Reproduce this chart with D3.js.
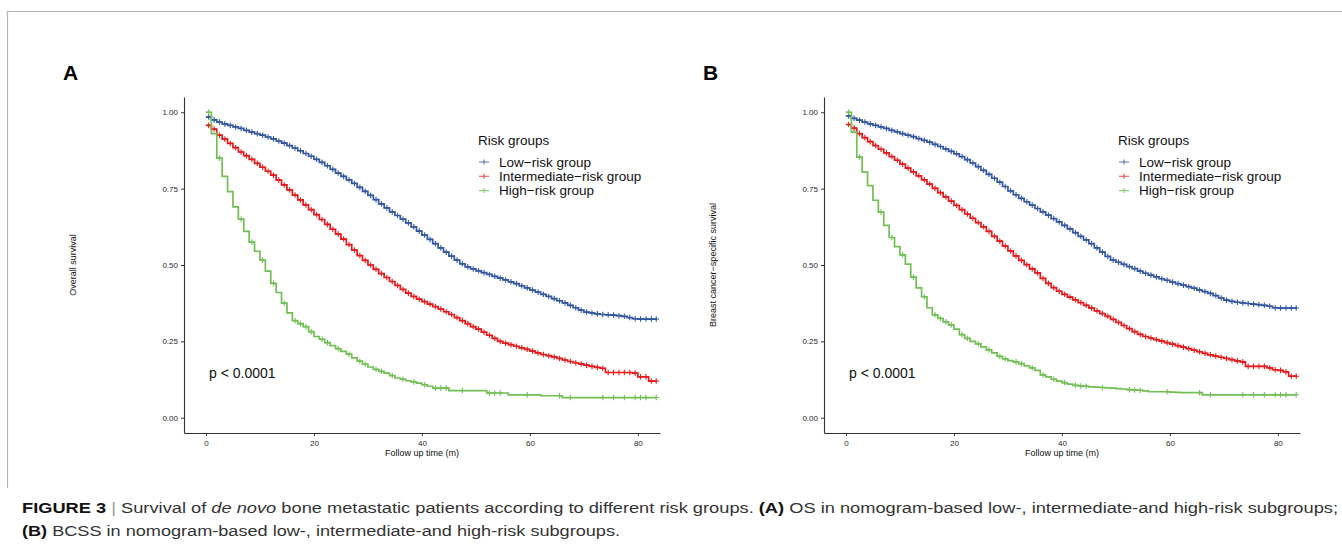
<!DOCTYPE html>
<html>
<head>
<meta charset="utf-8">
<script src="https://cdn.jsdelivr.net/npm/d3@7"></script>
<style>
  body { margin: 0; background: #fff; }
  svg text { font-family: "Liberation Sans", Arial, sans-serif; }
</style>
</head>
<body>
<div id="figure"></div>
<script>
// follow-up months (step starts)
var months = d3.range(0, 84);
var lastMonth = 83.5;

// Panel A: overall survival
var osLow = [0.985,0.975,0.968,0.962,0.957,0.952,0.947,0.941,0.935,0.930,0.925,0.919,0.913,0.906,0.899,0.891,0.883,0.874,0.865,0.856,
  0.846,0.836,0.825,0.813,0.801,0.790,0.779,0.767,0.754,0.741,0.728,0.714,0.700,0.687,0.674,0.662,0.650,0.638,0.625,0.611,
  0.598,0.584,0.570,0.556,0.542,0.529,0.516,0.504,0.494,0.487,0.481,0.475,0.469,0.463,0.457,0.451,0.445,0.439,0.432,0.425,
  0.418,0.411,0.404,0.397,0.390,0.383,0.376,0.368,0.360,0.352,0.346,0.343,0.340,0.338,0.337,0.336,0.334,0.332,0.328,0.324,
  0.323,0.323,0.323,0.323];
var osMid = [0.957,0.945,0.925,0.912,0.898,0.884,0.870,0.858,0.846,0.833,0.820,0.807,0.794,0.778,0.762,0.746,0.729,0.713,0.697,0.681,
  0.665,0.649,0.633,0.617,0.601,0.585,0.567,0.549,0.531,0.515,0.500,0.486,0.472,0.459,0.446,0.433,0.420,0.408,0.397,0.388,
  0.380,0.372,0.364,0.356,0.347,0.338,0.328,0.318,0.308,0.298,0.290,0.280,0.270,0.260,0.250,0.244,0.239,0.234,0.229,0.224,
  0.218,0.212,0.207,0.203,0.199,0.194,0.189,0.184,0.180,0.176,0.172,0.168,0.165,0.162,0.148,0.148,0.148,0.148,0.148,0.146,
  0.134,0.134,0.120,0.120];
var osHigh = [1.000,0.930,0.850,0.790,0.740,0.690,0.650,0.610,0.575,0.545,0.516,0.480,0.440,0.410,0.375,0.343,0.318,0.308,0.298,0.282,
  0.266,0.257,0.246,0.236,0.226,0.217,0.208,0.196,0.185,0.175,0.166,0.158,0.152,0.146,0.138,0.130,0.126,0.121,0.117,0.113,
  0.108,0.103,0.097,0.097,0.097,0.089,0.089,0.089,0.089,0.089,0.089,0.089,0.081,0.081,0.081,0.081,0.075,0.075,0.075,0.075,
  0.075,0.075,0.072,0.072,0.072,0.072,0.066,0.066,0.066,0.066,0.066,0.066,0.066,0.066,0.066,0.066,0.066,0.066,0.066,0.066,
  0.066,0.066,0.066,0.066];

// Panel B: breast cancer-specific survival
var bcssLow = [0.988,0.980,0.974,0.968,0.962,0.957,0.952,0.947,0.941,0.936,0.930,0.925,0.920,0.914,0.908,0.902,0.895,0.888,0.880,0.872,
  0.864,0.855,0.845,0.834,0.822,0.810,0.797,0.784,0.771,0.757,0.743,0.730,0.718,0.707,0.696,0.685,0.674,0.663,0.652,0.641,
  0.630,0.618,0.606,0.594,0.582,0.570,0.556,0.542,0.528,0.516,0.509,0.502,0.495,0.488,0.480,0.473,0.467,0.461,0.455,0.450,
  0.444,0.439,0.434,0.429,0.424,0.418,0.413,0.407,0.400,0.392,0.385,0.381,0.378,0.376,0.374,0.372,0.370,0.368,0.365,0.360,
  0.359,0.359,0.359,0.359];
var bcssMid = [0.960,0.948,0.930,0.917,0.904,0.891,0.879,0.867,0.855,0.843,0.830,0.817,0.805,0.792,0.779,0.765,0.751,0.737,0.723,0.709,
  0.695,0.681,0.667,0.653,0.639,0.625,0.610,0.594,0.578,0.562,0.546,0.530,0.515,0.501,0.487,0.474,0.456,0.440,0.426,0.414,
  0.404,0.395,0.386,0.377,0.368,0.359,0.350,0.341,0.332,0.322,0.312,0.302,0.292,0.282,0.273,0.266,0.261,0.256,0.251,0.246,
  0.241,0.236,0.231,0.226,0.221,0.216,0.211,0.206,0.202,0.198,0.194,0.190,0.186,0.183,0.168,0.168,0.168,0.168,0.163,0.157,
  0.155,0.150,0.136,0.136];
var bcssHigh = [1.000,0.935,0.853,0.804,0.760,0.712,0.673,0.630,0.590,0.560,0.533,0.503,0.460,0.425,0.396,0.360,0.337,0.325,0.314,0.304,
  0.290,0.272,0.260,0.250,0.242,0.232,0.222,0.212,0.201,0.193,0.187,0.183,0.177,0.170,0.163,0.155,0.140,0.134,0.126,0.120,
  0.115,0.110,0.106,0.104,0.103,0.101,0.100,0.099,0.098,0.097,0.095,0.094,0.092,0.091,0.090,0.088,0.085,0.085,0.085,0.085,
  0.084,0.083,0.082,0.082,0.082,0.082,0.075,0.075,0.075,0.075,0.075,0.075,0.075,0.075,0.075,0.075,0.075,0.075,0.075,0.075,
  0.075,0.075,0.075,0.075];

// censoring times (+ marks)
var censorDense = [0.5,1.5,2.5,3.5,4.5,5.5,6.5,7.5,8.5,9.5,10.5,11.5,12.5,13.5,14.5,15.5,16.5,17.5,18.5,19.5,20.5,21.5,22.5,23.5,
  24.5,25.5,26.5,27.5,28.5,29.5,30.5,31.5,32.5,33.5,34.5,35.5,36.5,37.5,38.5,39.5,40.5,41.5,42.5,43.5,44.5,45.5,46.5,47.5,
  48.5,49.5,50.5,51.5,52.5,53.5,54.5,55.5,56.5,57.5,58.5,59.5,60.5,61.5,62.5,63.5,64.5,65.5,66.5,67.5,68.5,69.5,70.5,71.5,
  72.5,73.5,74.5,75.5,76.5,77.5,78.5,79.5,80.5,81.5,82.5,83.4];
var censorHigh = [0.5,2.5,6.5,8.5,10.5,12.5,14.5,16.5,17.5,18.5,19.5,21.5,22.5,24.5,26.5,28.5,29.5,31.5,32.5,34.5,36.5,38.5,
  40.5,42.5,43.5,44.5,47.5,52.5,53.5,54.5,59.5,65.5,67.5,73.5,75.5,77.5,79.5,80.5,81.5,83.4];

var groupNames = ["Low\u2212risk group", "Intermediate\u2212risk group", "High\u2212risk group"];
var groupColors = ["#33579f", "#e41a1c", "#72be55"];
var yTicks = [0, 0.25, 0.5, 0.75, 1];
var xTicks = [0, 20, 40, 60, 80];

var svg = d3.select("#figure").append("svg")
  .attr("width", 1342).attr("height", 548);

// frame of the figure box
svg.append("path")
  .attr("d", "M7.5,488 V11.5 H1342")
  .attr("fill", "none").attr("stroke", "#b4b4b4").attr("stroke-width", 1.2);

function drawPanel(left, letter, yTitle, series) {
  var x = d3.scaleLinear().domain([-4.07, 84.1]).range([left, left + 476]);
  var y = d3.scaleLinear().domain([-0.05, 1.05]).range([433, 97]);
  var g = svg.append("g");

  g.append("text").attr("x", left - 121).attr("y", 80)
    .style("font-size", "21px").style("font-weight", "bold").text(letter);

  var yAxis = g.append("g").attr("transform", "translate(" + left + ",0)")
    .call(d3.axisLeft(y).tickValues(yTicks).tickFormat(d3.format(".2f")).tickSize(3).tickSizeOuter(0));
  var xAxis = g.append("g").attr("transform", "translate(0,433)")
    .call(d3.axisBottom(x).tickValues(xTicks).tickSize(3).tickSizeOuter(0));
  [yAxis, xAxis].forEach(function (a) {
    a.select(".domain").attr("stroke", "#333").attr("stroke-width", 1.1);
    a.selectAll(".tick line").attr("stroke", "#333");
    a.selectAll(".tick text").attr("fill", "#2b2b2b")
      .style("font-family", "Liberation Sans, Arial, sans-serif").style("font-size", "8px");
  });
  xAxis.selectAll(".tick text").attr("dy", "0.9em");

  g.append("text").attr("x", x(40)).attr("y", 456).attr("text-anchor", "middle")
    .style("font-size", "9px").attr("fill", "#111").text("Follow up time (m)");
  g.append("text").attr("transform", "translate(" + (left - 108) + ",265) rotate(-90)")
    .attr("text-anchor", "middle").style("font-size", "9px").attr("fill", "#111").text(yTitle);

  var line = d3.line().curve(d3.curveStepAfter)
    .x(function (d) { return x(d[0]); }).y(function (d) { return y(d[1]); });

  series.forEach(function (s, i) {
    var pts = months.map(function (m, k) { return [m, s.values[k]]; });
    pts.push([lastMonth, s.values[s.values.length - 1]]);
    g.append("path").datum(pts).attr("d", line)
      .attr("fill", "none").attr("stroke", groupColors[i]).attr("stroke-width", 1.7);

    g.selectAll(null).data(s.censor).enter().append("path")
      .attr("d", function (t) {
        var k = Math.min(Math.floor(t), s.values.length - 1);
        var px = x(t), py = y(s.values[k]);
        return "M" + (px - 2.8) + "," + py + "h5.6M" + px + "," + (py - 2.8) + "v5.6";
      })
      .attr("stroke", groupColors[i]).attr("stroke-width", 1.1).attr("fill", "none");
  });

  // p value
  g.append("text").attr("x", left + 25).attr("y", 378)
    .style("font-size", "14px").attr("fill", "#111").text("p < 0.0001");

  // legend
  var lx = left + 294;
  g.append("text").attr("x", lx).attr("y", 145).style("font-size", "13.5px").attr("fill", "#111").text("Risk groups");
  groupNames.forEach(function (name, i) {
    var ly = 162 + i * 14.3;
    g.append("path").attr("d", "M" + (lx + 1) + "," + ly + "h10M" + (lx + 6) + "," + (ly - 2.5) + "v5")
      .attr("stroke", groupColors[i]).attr("stroke-width", 1.1).attr("opacity", 0.8);
    g.append("text").attr("x", lx + 21).attr("y", ly + 4.8)
      .style("font-size", "13.5px").attr("fill", "#111").text(name);
  });
}

drawPanel(184, "A", "Overall survival", [
  { values: osLow, censor: censorDense },
  { values: osMid, censor: censorDense },
  { values: osHigh, censor: censorHigh }
]);
drawPanel(824, "B", "Breast cancer\u2212specific survival", [
  { values: bcssLow, censor: censorDense },
  { values: bcssMid, censor: censorDense },
  { values: bcssHigh, censor: censorHigh }
]);

// caption
var capFont = "'Liberation Sans Narrow', 'Liberation Sans', Arial, sans-serif";
var cap1 = svg.append("text").attr("x", 22).attr("y", 513)
  .style("font-family", capFont).style("font-size", "15.5px").attr("fill", "#333")
  .attr("textLength", 1316).attr("lengthAdjust", "spacingAndGlyphs");
cap1.append("tspan").style("font-weight", "bold").attr("fill", "#111").text("FIGURE 3");
cap1.append("tspan").attr("fill", "#999").text(" | ");
cap1.append("tspan").text("Survival of ");
cap1.append("tspan").style("font-style", "italic").text("de novo");
cap1.append("tspan").text(" bone metastatic patients according to different risk groups. ");
cap1.append("tspan").style("font-weight", "bold").attr("fill", "#111").text("(A)");
cap1.append("tspan").text(" OS in nomogram-based low-, intermediate-and high-risk subgroups;");

var cap2 = svg.append("text").attr("x", 22).attr("y", 536)
  .style("font-family", capFont).style("font-size", "15.5px").attr("fill", "#333")
  .attr("textLength", 598).attr("lengthAdjust", "spacingAndGlyphs");
cap2.append("tspan").style("font-weight", "bold").attr("fill", "#111").text("(B)");
cap2.append("tspan").text(" BCSS in nomogram-based low-, intermediate-and high-risk subgroups.");
</script>
</body>
</html>
